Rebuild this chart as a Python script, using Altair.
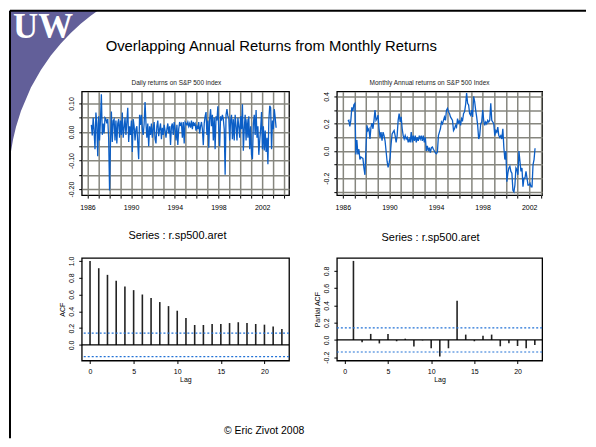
import altair as alt
import numpy as np
import pandas as pd

# ---------------- text ----------------
SLIDE_TITLE = "Overlapping Annual Returns from Monthly Returns"
FOOTER = "\u00a9 Eric Zivot 2008"
LOGO_TEXT = "UW"
TL_TITLE = "Daily returns on S&P 500 index"
TR_TITLE = "Monthly Annual returns on S&P 500 Index"
ACF_TITLE = "Series : r.sp500.aret"
PACF_TITLE = "Series : r.sp500.aret"

# ---------------- data ----------------
RET_START = 1986.36
RET = [
    0.025, -0.012, 0.05, 0.005, -0.06, 0.068, 0.03, -0.085, 0.055, -0.03, 0.04, 0.132,
    -0.01, 0.03, -0.005, 0.05, 0.045, 0.03, 0.045, -0.02, -0.205, -0.04, 0.072, -0.035,
    0.04, 0.045, -0.03, 0.04, -0.04, 0.03, 0.045, -0.02, 0.04, -0.01, 0.068, -0.02,
    0.015, 0.05, -0.01, 0.035, 0.085, -0.035, 0.02, -0.01, 0.04, -0.07, 0.045, 0.02,
    -0.03, 0.01, 0.02, -0.04, -0.095, 0.06, 0.025, 0.06, 0.01, -0.01, 0.03, 0.105,
    0.03, -0.02, 0.03, -0.05, 0.02, -0.01, 0.03, -0.02, 0.01, 0.035, -0.025, -0.04,
    0.02, 0.04, -0.015, 0.01, 0.03, -0.025, 0.015, -0.01, 0.025, 0.005, -0.02, 0.01,
    0.03, -0.005, 0.02, -0.045, 0.02, 0.03, -0.01, 0.035, 0.01, -0.03, 0.025, -0.045,
    0.01, 0.035, 0.025, 0.03, -0.02, 0.035, -0.04, 0.035, 0.03, 0.025, 0.035, 0.02,
    0.03, 0.015, 0.04, 0.01, 0.035, 0.025, 0.03, 0.005, 0.02, 0.01, 0.035, -0.005,
    0.02, 0.035, 0.01, -0.046, 0.03, 0.055, 0.07, -0.01, 0.04, -0.055, 0.045, 0.08,
    0.02, 0.06, -0.03, 0.05, -0.06, 0.055, 0.04, 0.09, 0.01, -0.05, 0.055, 0.04,
    0.06, 0.045, 0.01, -0.15, 0.06, 0.08, 0.055, 0.05, -0.03, 0.04, 0.06, -0.025,
    0.045, -0.03, 0.06, 0.02, -0.03, 0.05, 0.02, -0.02, 0.055, 0.01, 0.097, -0.066,
    0.01, 0.06, -0.03, 0.045, -0.02, 0.055, -0.06, 0.02, -0.08, -0.095, 0.03, 0.06,
    -0.01, 0.077, -0.02, 0.02, -0.08, -0.03, 0.01, 0.07, -0.06, 0.02, -0.065, 0.005,
    -0.07, -0.02, -0.113, 0.04, 0.092, 0.085, -0.06, 0.04, 0.01, 0.08, 0.05, 0.015,
]

ARET_START = 1986.43
ARET_END = 2002.5
ARET = [
    0.218, 0.225, 0.18, 0.225, 0.32, 0.295, 0.34, 0.35, -0.025, 0.08,
    -0.025, 0.013, -0.063, -0.045, -0.05, -0.055, -0.125, -0.175, 0.013, 0.188,
    0.15, 0.163, 0.088, 0.175, 0.205, 0.163, 0.225, 0.30, 0.225, 0.238,
    0.263, 0.163, 0.10, 0.138, 0.075, 0.138, 0.113, 0.075, 0.0, -0.075,
    -0.12, -0.088, -0.05, 0.05, 0.125, 0.138, 0.15, 0.113, 0.063, 0.113,
    0.225, 0.275, 0.213, 0.25, 0.163, 0.113, 0.088, 0.113, 0.088, 0.10,
    0.063, 0.088, 0.063, 0.138, 0.063, 0.113, 0.075, 0.113, 0.063, 0.10,
    0.075, 0.113, 0.088, 0.113, 0.075, 0.113, 0.063, 0.10, 0.0, 0.038,
    0.0, 0.025, -0.013, 0.025, 0.03, 0.013, 0.0, -0.013, -0.02, -0.008,
    0.113, 0.138, 0.163, 0.213, 0.20, 0.225, 0.25, 0.225, 0.30, 0.313,
    0.288, 0.275, 0.25, 0.238, 0.225, 0.15, 0.163, 0.188, 0.175, 0.238,
    0.20, 0.225, 0.188, 0.238, 0.225, 0.275, 0.288, 0.338, 0.425, 0.35,
    0.338, 0.275, 0.263, 0.30, 0.25, 0.40, 0.363, 0.30, 0.25, 0.188,
    0.088, 0.113, 0.20, 0.213, 0.30, 0.225, 0.188, 0.213, 0.20, 0.225,
    0.213, 0.225, 0.35, 0.225, 0.213, 0.20, 0.113, 0.15, 0.138, 0.175,
    0.113, 0.10, 0.113, 0.088, 0.163, 0.025, -0.063, 0.0, -0.225, -0.163,
    -0.125, -0.113, -0.15, -0.163, -0.288, -0.30, -0.25, -0.125, -0.138, -0.175,
    0.0, -0.075, -0.15, -0.125, -0.263, -0.20, -0.20, -0.15, -0.20, -0.25,
    -0.25, -0.238, -0.263, -0.263, -0.10, -0.063, 0.02,
]

LAGS = list(range(0, 23))
ACF = [1.0, 0.913, 0.834, 0.763, 0.696, 0.652, 0.60, 0.557, 0.51, 0.462, 0.407, 0.32,
       0.237, 0.237, 0.249, 0.249, 0.26, 0.27, 0.26, 0.249, 0.241, 0.22, 0.19]
PACF_LAGS = list(range(1, 23))
PACF = [0.915, -0.027, 0.07, -0.04, 0.07, -0.015, 0.015, -0.077, -0.005, -0.096, -0.19,
        -0.096, 0.454, 0.062, -0.015, 0.05, 0.062, -0.073, -0.038, -0.07, -0.096, -0.058]
CONF = 0.14

# decorative logo outline (page pixels)
LOGO_X = [8, 8.5, 9, 10, 12, 15, 20, 30, 40, 50, 60, 70, 80, 90, 97]
LOGO_Y = [175, 168, 158.7, 150.3, 138.5, 125.6, 109.5, 86, 68.4, 54, 41.8, 31.3, 22, 14, 9]

# ---------------- styles ----------------
FONT = "Liberation Sans"
BLUE = "#0b5ec6"
CONF_BLUE = "#2272d6"
PURPLE = "#625f99"
GRID = "#86867e"
OFF = 8  # page margin

ret_df = pd.DataFrame({"date": RET_START + np.arange(len(RET)) / 12.0, "ret": RET})
aret_df = pd.DataFrame({"date": np.linspace(ARET_START, ARET_END, len(ARET)), "aret": ARET})
acf_df = pd.DataFrame({"lag": LAGS, "acf": ACF, "zero": 0.0})
pacf_df = pd.DataFrame({"lag": PACF_LAGS, "pacf": PACF, "zero": 0.0})
logo_df = pd.DataFrame({"x": [v - OFF for v in LOGO_X],
                        "top": 1.0,
                        "curve": [v - OFF for v in LOGO_Y]})
one = pd.DataFrame({"a": [0]})

MINUS = "\u2212"


def spacer(w, h):
    return alt.Chart(one).mark_point(opacity=0, size=1).encode(
        x=alt.value(w / 2), y=alt.value(h / 2)).properties(width=w, height=h)


def yaxis(values, fmt, every, title=None, grid=False):
    expr = ("abs(round(datum.value*%d)) %% %d == 0 ? replace(format(datum.value, '%s'), '%s', '-') : ''"
            % (every[0], every[1], fmt, MINUS))
    kw = dict(values=values, labelExpr=expr, labelAngle=270, labelAlign="center",
              labelBaseline="bottom", labelPadding=4, tickSize=3, grid=grid,
              gridColor=GRID, gridWidth=1.5, gridOpacity=1, labelOverlap=False,
              labelFlush=False, domain=False)
    if title:
        kw.update(title=title, titlePadding=2, titleFontSize=7, titleFontWeight="normal",
                  titleFont=FONT, titleColor="black")
    else:
        kw.update(title=None)
    return alt.Axis(**kw)


def year_axis(years):
    return alt.Axis(values=years, labelExpr="(datum.value - 1986) % 4 == 0 ? format(datum.value, 'd') : ''",
                    grid=True, gridColor=GRID, gridWidth=1.5, gridOpacity=1, tickSize=3,
                    labelPadding=5, labelOverlap=False, labelFlush=False, domain=False, title=None)


def sc(lo, hi):
    return alt.Scale(domain=[lo, hi], nice=False, zero=False)


box = alt.ViewBackground(stroke="black", strokeWidth=1.3)

# ---------------- header ----------------
hx = alt.Scale(domain=[0, 580], range=[0, 580], nice=False, zero=False)
hy = alt.Scale(domain=[0, 82], range=[0, 82], nice=False, zero=False)
logo = alt.Chart(logo_df).mark_area(color=PURPLE, opacity=1, clip=False).encode(
    x=alt.X("x:Q", scale=hx, axis=None),
    y=alt.Y("top:Q", scale=hy, axis=None),
    y2="curve:Q",
)
uw = alt.Chart(pd.DataFrame({"t": [LOGO_TEXT]})).mark_text(
    font="Liberation Serif", fontWeight="bold", fontSize=35, color="white",
    align="left", baseline="alphabetic").encode(text="t:N", x=alt.value(4), y=alt.value(28))
title = alt.Chart(pd.DataFrame({"t": [SLIDE_TITLE]})).mark_text(
    font=FONT, fontSize=14.9, color="black", align="left", baseline="alphabetic").encode(
    text="t:N", x=alt.value(97), y=alt.value(41))
border_left = alt.Chart(one).mark_rule(color="black", strokeWidth=2).encode(
    x=alt.value(1), y=alt.value(1), y2=alt.value(430))
border_top = alt.Chart(one).mark_rule(color="black", strokeWidth=2).encode(
    x=alt.value(1), x2=alt.value(579), y=alt.value(1))
header = alt.layer(logo, uw, title, border_left, border_top).properties(width=580, height=82)

# ---------------- top panels ----------------
p1 = alt.Chart(ret_df).mark_line(color=BLUE, strokeWidth=1.3, clip=True).encode(
    x=alt.X("date:Q", scale=sc(1985.48, 2004.46), axis=year_axis(list(range(1986, 2005)))),
    y=alt.Y("ret:Q", scale=sc(-0.221, 0.142),
            axis=yaxis([-0.2, -0.15, -0.1, -0.05, 0.0, 0.05, 0.1], ".2f", (20, 2), grid=True)),
).properties(width=208, height=104, view=box,
             title=alt.TitleParams(TL_TITLE, fontSize=6.5, font=FONT, fontWeight="normal",
                                   color="#222", offset=5, dx=-9, anchor="middle"))

p2 = alt.Chart(aret_df).mark_line(color=BLUE, strokeWidth=1.3, clip=True).encode(
    x=alt.X("date:Q", scale=sc(1985.49, 2003.11), axis=year_axis(list(range(1986, 2004)))),
    y=alt.Y("aret:Q", scale=sc(-0.324, 0.437),
            axis=yaxis([-0.3, -0.2, -0.1, 0.0, 0.1, 0.2, 0.3, 0.4], ".1f", (10, 2), grid=True)),
).properties(width=206, height=104, view=box,
             title=alt.TitleParams(TR_TITLE, fontSize=6.5, font=FONT, fontWeight="normal",
                                   color="#222", offset=5, dx=-10, anchor="middle"))


# ---------------- ACF panels ----------------
def corr_panel(df, field, xdom, ydom, yvals, ytitle, width, dx, ttl):
    xs = sc(*xdom)
    ys = sc(*ydom)
    xax = alt.Axis(values=[0, 5, 10, 15, 20], format="d", title="Lag", titlePadding=1,
                   titleFontSize=7, titleFontWeight="normal", titleFont=FONT, titleColor="black",
                   tickSize=3, labelPadding=4, labelFlush=False, grid=False, domain=False)
    yax = yaxis(yvals, ".1f", (10, 1), title=ytitle)
    bars = alt.Chart(df).mark_rule(color="#222", strokeWidth=1.6).encode(
        x=alt.X("lag:Q", scale=xs, axis=xax),
        y=alt.Y(f"{field}:Q", scale=ys, axis=yax),
        y2="zero:Q",
    )
    zero = alt.Chart(pd.DataFrame({field: [0.0]})).mark_rule(color="black", strokeWidth=1.2).encode(
        y=alt.Y(f"{field}:Q", scale=ys, axis=yax))
    conf = alt.Chart(pd.DataFrame({field: [CONF, -CONF]})).mark_rule(
        color=CONF_BLUE, strokeWidth=1.1, strokeDash=[2, 2]).encode(
        y=alt.Y(f"{field}:Q", scale=ys, axis=yax))
    return alt.layer(bars, zero, conf).properties(
        width=width, height=103, view=box,
        title=alt.TitleParams(ttl, fontSize=11, font=FONT, fontWeight="normal",
                              color="black", offset=15, dx=dx, anchor="middle"))


acf = corr_panel(acf_df, "acf", (-0.95, 22.82), (-0.186, 1.036),
                 [0.0, 0.2, 0.4, 0.6, 0.8, 1.0], "ACF", 208, -8, ACF_TITLE)
pacf = corr_panel(pacf_df, "pacf", (-0.92, 22.85), (-0.238, 0.95),
                  [-0.2, 0.0, 0.2, 0.4, 0.6, 0.8], "Partial ACF", 206, -9, PACF_TITLE)

# ---------------- footer ----------------
footer = alt.Chart(pd.DataFrame({"t": [FOOTER]})).mark_text(
    font=FONT, fontSize=10.5, color="black", align="center", baseline="middle").encode(
    text="t:N", x=alt.value(256), y=alt.value(71)).properties(width=580, height=79)

row1 = alt.hconcat(spacer(73, 104), p1, spacer(48, 104), p2, spacing=0, bounds="flush")
row2 = alt.hconcat(spacer(73, 103), acf, spacer(48, 103), pacf, spacing=0, bounds="flush")

# nested rows count with zero height in a flush layout, so the spacers carry the row heights
chart = alt.vconcat(header, row1, spacer(10, 104 + 63), row2, spacer(10, 103), footer,
                    spacing=0, bounds="flush").properties(
    padding=0, background="white"
).configure_view(stroke="transparent").configure_axis(
    labelFont=FONT, labelFontSize=7, labelColor="black", tickColor="black", tickWidth=1
)

chart.save("out.html", embed_options={"renderer": "svg", "actions": False})
